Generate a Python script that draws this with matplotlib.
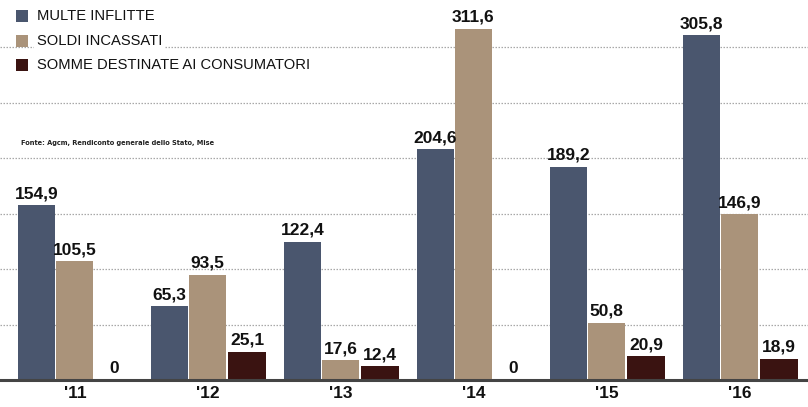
import numpy as np
import matplotlib.pyplot as plt
from matplotlib.patches import Rectangle

years = ["'11", "'12", "'13", "'14", "'15", "'16"]
multe_inflitte = [154.9, 65.3, 122.4, 204.6, 189.2, 305.8]
soldi_incassati = [105.5, 93.5, 17.6, 311.6, 50.8, 146.9]
somme_consumatori = [0.0, 25.1, 12.4, 0.0, 20.9, 18.9]

series_names = ["MULTE INFLITTE", "SOLDI INCASSATI", "SOMME DESTINATE AI CONSUMATORI"]
colors = ["#4a566e", "#aa937a", "#3a1311"]
source = "Fonte: Agcm, Rendiconto generale dello Stato, Mise"

W, H = 808, 407
fig = plt.figure(figsize=(W / 100, H / 100), dpi=100)
fig.patch.set_facecolor("white")
ax = fig.add_axes([0, 27 / H, 1, 1 - 27 / H])

x = np.arange(len(years))
offsets = [-0.29, -0.005, 0.293]
width = 0.28
label_font = dict(family=["Liberation Sans", "DejaVu Sans"], fontweight="bold",
                  fontsize=12.5, color="#111111")

for vals, off, col in zip([multe_inflitte, soldi_incassati, somme_consumatori], offsets, colors):
    bars = ax.bar(x + off, vals, width=width, color=col, zorder=2, linewidth=0)
    for b, v in zip(bars, vals):
        txt = f"{v:.1f}".replace(".", ",") if v != 0 else "0"
        ax.text(b.get_x() + b.get_width() / 2, v + 3.5, txt,
                ha="center", va="bottom", zorder=4, **label_font)

ax.set_xlim(-0.564, 5.511)
ax.set_ylim(0, 336.9)

# dotted guide lines
for gy in np.arange(1, 7) * 49.2:
    ax.axhline(gy, color="#a8a8a8", linestyle=(0, (1.2, 1.2)), linewidth=0.9, zorder=1)

ax.axhline(0, color="#444444", linewidth=2.2, zorder=3, clip_on=False)

for s in ax.spines.values():
    s.set_visible(False)
ax.set_yticks([])
ax.set_xticks(x)
ax.set_xticklabels(years)
ax.tick_params(axis="x", length=0, pad=4)
for t in ax.get_xticklabels():
    t.set_fontfamily(["Liberation Sans", "DejaVu Sans"])
    t.set_fontweight("bold")
    t.set_fontsize(12.5)
    t.set_color("#111111")
ax.patch.set_alpha(0)

# legend block
leg_y = [16, 41, 65]
for name, col, yy in zip(series_names, colors, leg_y):
    fig.patches.append(Rectangle((16 / W, 1 - (yy + 6) / H), 12 / W, 12 / H,
                                 transform=fig.transFigure, facecolor=col,
                                 edgecolor="none", zorder=5))
    fig.text(37 / W, 1 - yy / H, name, ha="left", va="center", fontsize=10.6,
             family=["Liberation Sans", "DejaVu Sans"], color="#111111", zorder=6,
             bbox=dict(facecolor="white", edgecolor="none", pad=2))

fig.text(21 / W, 1 - 143.5 / H, source, ha="left", va="center", fontsize=5.3,
         family=["DejaVu Sans"], fontstretch="condensed",
         fontweight="bold", color="#222222")

fig.savefig("out.png", dpi=100, facecolor="white")
